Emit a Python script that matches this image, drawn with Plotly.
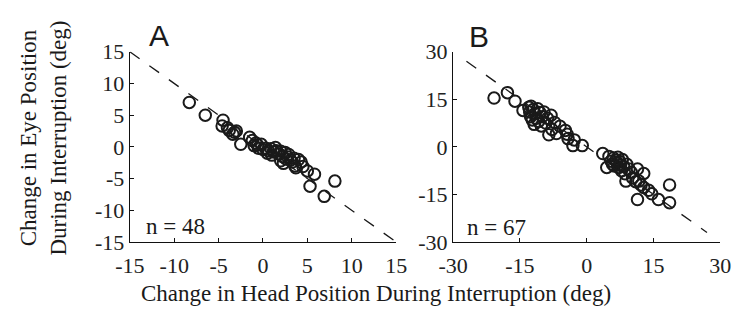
import plotly.graph_objects as go

# Panel A data (change in head position vs change in eye position, deg)
head_a = [-8.3, -6.5, -4.5, -4.6, -4.0, -3.8, -3.4, -3.0, -3.2, -2.5, -1.5, -1.2,
          -0.8, -0.6, -0.5, -0.2, 0.0, 0.3, 0.6, 0.9, 1.2, 1.4, 1.5, 1.8,
          2.0, 2.2, 2.3, 2.5, 2.6, 2.8, 2.9, 3.1, 3.3, 3.5, 3.6, 3.7,
          4.0, 4.3, 4.5, 5.0, 5.8, 5.3, 6.9, 8.1, 1.0, 2.0, -1.0, 0.5]
eye_a = [7.0, 5.0, 4.2, 3.3, 3.0, 2.6, 2.0, 2.5, 2.3, 0.4, 1.5, 1.0,
         0.6, 0.3, -0.2, 0.4, -0.4, -0.2, -0.6, -0.3, -0.8, -0.1, -0.6, -1.1,
         -0.7, -1.5, -2.6, -0.9, -1.9, -1.6, -1.2, -2.1, -2.4, -1.8, -3.0, -3.3,
         -2.0, -2.4, -3.1, -3.8, -4.3, -6.2, -7.8, -5.4, -1.3, -2.2, 0.2, -1.0]

# Panel B data
head_b = [-20.8, -17.8, -16.1, -14.3, -13.0, -12.8, -12.6, -12.5, -12.2, -12.0, -11.8,
          -11.6, -11.3, -11.0, -10.8, -10.5, -10.2, -10.0, -9.6, -9.2, -8.8, -8.5,
          -8.0, -7.8, -7.2, -6.8, -6.0, -4.8, -4.4, -4.2, -2.8, -3.1, -1.0,
          3.6, 4.5, 5.0, 5.5, 5.8, 6.0, 6.2, 6.5, 6.8, 7.0, 7.2, 7.4, 7.6, 7.8,
          8.0, 8.3, 8.6, 8.8, 9.0, 9.5, 10.0, 10.3, 11.0, 11.4, 11.7, 11.4,
          12.2, 12.8, 12.8, 13.9, 14.6, 16.1, 18.6, 18.6]
eye_b = [15.4, 17.1, 14.4, 11.5, 12.5, 11.0, 9.5, 12.8, 8.5, 11.8, 7.1,
         10.5, 9.0, 12.0, 8.0, 10.8, 6.6, 9.5, 11.0, 7.5, 9.0, 3.8,
         10.0, 5.5, 7.7, 4.2, 6.5, 5.2, 4.0, 2.6, 2.2, 0.4, 0.4,
         -2.1, -6.5, -3.0, -4.5, -5.5, -3.5, -6.0, -4.2, -5.0, -3.3, -6.5, -4.6, -5.8, -7.5,
         -4.0, -6.2, -8.5, -10.8, -5.5, -7.0, -8.0, -9.8, -11.0, -7.0, -10.8, -16.6,
         -12.0, -8.4, -12.8, -13.7, -14.8, -16.6, -17.6, -12.0]

ticks_a = [-15, -10, -5, 0, 5, 10, 15]
ticks_b = [-30, -15, 0, 15, 30]
labels_a = ["-15", "-10", "-5", "0", "5", "10", "15"]
labels_b = ["-30", "-15", "0", "15", "30"]
unity_a = [-15, 15]
unity_b = [-27, 27]

ink = "#1a1a1a"
serif = "Liberation Serif, Times New Roman, serif"

fig = go.Figure()

marker = dict(symbol="circle-open", size=11.5, color=ink, line=dict(width=2, color=ink))
dash_line = dict(color=ink, width=1.3, dash="12px,12px")

fig.add_trace(go.Scatter(x=unity_a, y=[-v for v in unity_a], mode="lines",
                         line=dash_line, xaxis="x", yaxis="y", showlegend=False))
fig.add_trace(go.Scatter(x=head_a, y=eye_a, mode="markers", marker=marker,
                         xaxis="x", yaxis="y", showlegend=False))
fig.add_trace(go.Scatter(x=unity_b, y=[-v for v in unity_b], mode="lines",
                         line=dash_line, xaxis="x2", yaxis="y2", showlegend=False))
fig.add_trace(go.Scatter(x=head_b, y=eye_b, mode="markers", marker=marker,
                         xaxis="x2", yaxis="y2", showlegend=False))

ax_common = dict(showgrid=False, zeroline=False, showline=True, linecolor="#111",
                 linewidth=1.3, ticks="inside", ticklen=4, tickwidth=1.1, tickcolor="#111",
                 tickfont=dict(family=serif, size=22, color="#222"), mirror=False)

ydom = [79 / 328, 285 / 328]
fig.update_layout(
    width=741, height=328,
    margin=dict(l=0, r=0, t=0, b=0),
    paper_bgcolor="white", plot_bgcolor="white",
    xaxis=dict(domain=[119 / 741, 395 / 741], range=[-15, 15], tickvals=ticks_a,
               ticktext=labels_a, anchor="y", ticklabelstandoff=3, **ax_common),
    yaxis=dict(domain=ydom, range=[-15, 15], tickvals=ticks_a, ticktext=labels_a,
               anchor="x", **ax_common),
    xaxis2=dict(domain=[454 / 741, 731 / 741], range=[-30, 30], tickvals=ticks_b,
                ticktext=labels_b, anchor="y2", ticklabelstandoff=3, **ax_common),
    yaxis2=dict(domain=ydom, range=[-30, 30], tickvals=ticks_b, ticktext=labels_b,
                anchor="x2", **ax_common),
)

annots = [
    dict(text="A", x=149 / 741, y=1 - 25 / 328, font=dict(family="Liberation Sans, Arial", size=30, color=ink)),
    dict(text="B", x=481 / 741, y=1 - 26 / 328, font=dict(family="Liberation Sans, Arial", size=30, color=ink)),
    dict(text="n = 48", x=166 / 741, y=1 - 232 / 328, font=dict(family=serif, size=23, color=ink)),
    dict(text="n = 67", x=499 / 741, y=1 - 233 / 328, font=dict(family=serif, size=23, color=ink)),
    dict(text="Change in Head Position During Interruption (deg)", x=374 / 741, y=1 - 305 / 328,
         font=dict(family=serif, size=23, color=ink)),
    dict(text="Change in Eye Position<br>During Interruption (deg)", x=30 / 741, y=1 - 136 / 328,
         textangle=-90, font=dict(family=serif, size=23, color=ink)),
]
for a in annots:
    fig.add_annotation(xref="paper", yref="paper", showarrow=False,
                       xanchor="center", yanchor="middle", **a)

fig.write_html("out.html")
